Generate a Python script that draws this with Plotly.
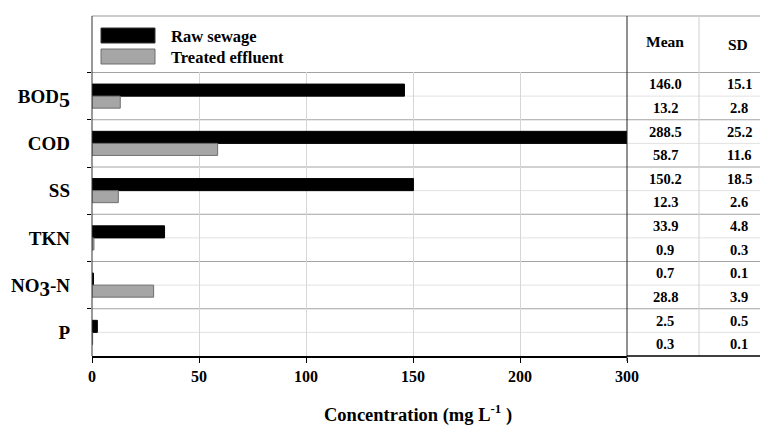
import plotly.graph_objects as go

W, H = 760, 426

categories = ["BOD<sub><span style='font-size:22px'>5</span></sub>", "COD", "SS", "TKN",
              "NO<sub><span style='font-size:21px'>3</span></sub>-N", "P"]
raw_mean = [146.0, 288.5, 150.2, 33.9, 0.7, 2.5]
raw_sd = [15.1, 25.2, 18.5, 4.8, 0.1, 0.5]
treated_mean = [13.2, 58.7, 12.3, 0.9, 28.8, 0.3]
treated_sd = [2.8, 11.6, 2.6, 0.3, 3.9, 0.1]
x_tickvals = [0, 50, 100, 150, 200, 250]
x_ticktext = ["0", "50", "100", "150", "200", "300"]

FONT = "Liberation Serif, Times New Roman, serif"

def px(x):
    return x / W

def py(y):
    return 1 - y / H

fig = go.Figure()
fig.add_trace(go.Bar(y=categories, x=raw_mean, orientation="h", name="Raw sewage",
                     marker=dict(color="black", line=dict(color="black", width=1)),
                     showlegend=False))
fig.add_trace(go.Bar(y=categories, x=treated_mean, orientation="h", name="Treated effluent",
                     marker=dict(color="#a6a6a6", line=dict(color="#6e6e6e", width=1)),
                     showlegend=False))

shapes = []
n = len(categories)
for i in range(n):
    shapes.append(dict(type="line", xref="paper", yref="y", x0=px(92), x1=1.0,
                       y0=i - 0.5, y1=i - 0.5, line=dict(color="#a3a3a3", width=1), layer="below"))
    shapes.append(dict(type="line", xref="paper", yref="y", x0=px(92), x1=1.0,
                       y0=i, y1=i, line=dict(color="#e2e2e2", width=1), layer="below"))
shapes.append(dict(type="line", xref="paper", yref="paper", x0=px(92), x1=1.0,
                   y0=py(16), y1=py(16), line=dict(color="#999999", width=1)))
shapes.append(dict(type="line", xref="paper", yref="paper", x0=px(92), x1=px(92),
                   y0=py(16), y1=py(356), line=dict(color="#333333", width=1)))
shapes.append(dict(type="line", xref="paper", yref="paper", x0=px(699), x1=px(699),
                   y0=py(16), y1=py(356), line=dict(color="#d0d0d0", width=1)))
shapes.append(dict(type="line", xref="paper", yref="paper", x0=px(627), x1=px(627),
                   y0=py(16), y1=py(361), line=dict(color="#222222", width=1)))
shapes.append(dict(type="line", xref="paper", yref="paper", x0=px(627), x1=1.0,
                   y0=py(356), y1=py(356), line=dict(color="black", width=1.5)))
shapes.append(dict(type="rect", xref="paper", yref="paper", x0=px(101), x1=px(155),
                   y0=py(28), y1=py(43), fillcolor="black", line=dict(color="#333333", width=1)))
shapes.append(dict(type="rect", xref="paper", yref="paper", x0=px(101), x1=px(155),
                   y0=py(49), y1=py(64), fillcolor="#a6a6a6", line=dict(color="#6e6e6e", width=1)))

annotations = []
bfont = dict(family=FONT, size=16.5, color="black", weight="bold")
annotations.append(dict(text="Raw sewage", x=px(169), y=py(36), xref="paper", yref="paper",
                        xanchor="left", yanchor="middle", showarrow=False, font=bfont))
annotations.append(dict(text="Treated effluent", x=px(169), y=py(58), xref="paper", yref="paper",
                        xanchor="left", yanchor="middle", showarrow=False, font=bfont))
hfont = dict(family=FONT, size=15.5, color="black", weight="bold")
annotations.append(dict(text="Mean", x=px(665), y=py(42), xref="paper", yref="paper",
                        xanchor="center", yanchor="middle", showarrow=False, font=hfont))
annotations.append(dict(text="SD", x=px(738), y=py(44), xref="paper", yref="paper",
                        xanchor="center", yanchor="middle", showarrow=False, font=hfont))
tfont = dict(family=FONT, size=14.5, color="black", weight="bold")
for i in range(n):
    for val_m, val_s, off in ((raw_mean[i], raw_sd[i], -0.25), (treated_mean[i], treated_sd[i], 0.25)):
        annotations.append(dict(text=f"{val_m:.1f}", x=px(665), y=i + off, xref="paper", yref="y",
                                xanchor="center", yanchor="middle", showarrow=False, font=tfont))
        annotations.append(dict(text=f"{val_s:.1f}", x=px(739), y=i + off, xref="paper", yref="y",
                                xanchor="center", yanchor="middle", showarrow=False, font=tfont))
annotations.append(dict(text="Concentration (mg L<sup>-1</sup> )", x=px(418), y=py(413),
                        xref="paper", yref="paper", xanchor="center", yanchor="middle",
                        showarrow=False, font=dict(family=FONT, size=18.5, color="black", weight="bold")))

fig.update_layout(
    width=W, height=H,
    margin=dict(l=0, r=0, t=0, b=0, autoexpand=False),
    paper_bgcolor="white", plot_bgcolor="white",
    barmode="group", bargap=0.49, bargroupgap=0,
    font=dict(family=FONT, color="black"),
    shapes=shapes, annotations=annotations,
    xaxis=dict(domain=[px(92), px(627)], range=[0, 250], tickvals=x_tickvals, ticktext=x_ticktext,
               automargin=False,
               showgrid=True, gridcolor="#d6d6d6", gridwidth=1, zeroline=False,
               showline=True, linecolor="black", linewidth=1.5,
               ticks="outside", ticklen=5, tickcolor="black",
               tickfont=dict(family=FONT, size=16, color="black", weight="bold")),
    yaxis=dict(domain=[py(356), py(72)], autorange="reversed", type="category",
               automargin=False,
               showgrid=False, zeroline=False, showline=False,
               ticks="outside", tickson="boundaries", ticklen=4, tickcolor="black",
               ticklabelstandoff=21,
               tickfont=dict(family=FONT, size=19, color="black", weight="bold")),
)

fig.write_html("out.html", config={"displayModeBar": False},
               post_script="document.body.style.margin='0px';document.body.style.overflow='hidden';")
